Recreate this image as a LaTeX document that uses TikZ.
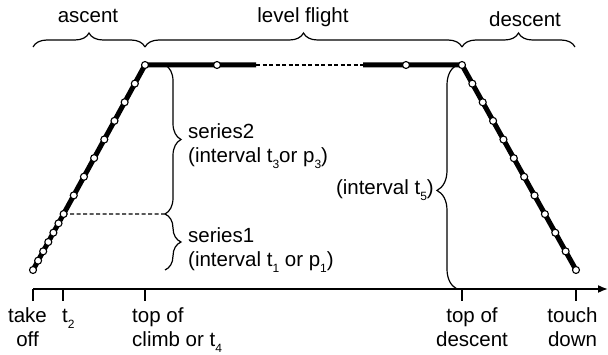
\documentclass[tikz,border=0pt]{standalone}
\usepackage{fontspec}
\setmainfont{Liberation Sans}
\usepackage{tikz}
\usetikzlibrary{arrows,arrows.meta}
\usetikzlibrary{calc}
\usetikzlibrary{decorations.pathreplacing}

\newcommand{\lowidx}[1]{\raisebox{-5.5pt}{\fontsize{12}{12}\selectfont #1}}

\tikzset{
	flight/.style={line width=5pt, line join=round},
	fixpt/.style={circle, draw, fill=white, line width=1.1pt, inner sep=0pt, minimum size=7pt},
	brc/.style={decorate, decoration={brace, amplitude=#1}, line width=1.2pt},
	brc/.default=14pt,
	lbl/.style={font=\fontsize{20.5}{24.5}\selectfont, inner sep=0pt},
	thin dash/.style={line width=1.2pt, dash pattern=on 4pt off 2.5pt}
}

\begin{document}
\begin{tikzpicture}[x=1pt, y=-1pt]
	\useasboundingbox (0,0) rectangle (608,355);
	% flight profile
	\coordinate (takeoff) at (33,270);
	\coordinate (toc) at (145,65);
	\coordinate (tod) at (462,65);
	\coordinate (touch) at (576,270);
	\coordinate (t2) at ($(takeoff)!0.2732!(toc)$);
	\coordinate (lvlA) at (256,65);
	\coordinate (lvlB) at (363,65);
	\coordinate (sTop) at (165,65);
	\coordinate (sMid) at (165,214);
	\coordinate (sBot) at (165,270);
	\draw[flight] (takeoff) -- (toc) -- (lvlA);
	\draw[flight] (lvlB) -- (tod) -- (touch);
	\draw[thin dash] (lvlA) -- (lvlB);
	\draw[thin dash] (t2) -- (sMid);
	% measured points
	\foreach \i in {0,...,6}
		\node[fixpt] (asc\i) at ($(takeoff)!\i/6!(t2)$) {};
	\foreach \i in {1,...,8}
		\node[fixpt] (clb\i) at ($(t2)!\i/8!(toc)$) {};
	\node[fixpt] (lvl1) at (217,65) {};
	\node[fixpt] (lvl2) at (406,65) {};
	\foreach \i in {0,...,11}
		\node[fixpt] (dsc\i) at ($(tod)!\i/11!(touch)$) {};
	% time axis
	\coordinate (orig) at (33,289);
	\coordinate (xend) at (608,289);
	\draw[line width=1.6pt, -{Latex[length=10pt,width=8pt]}] (orig) -- (xend);
	\foreach \x in {33,63,145,462,576}
		\draw[line width=1.2pt] (\x,289) -- (\x,301);
	\node[lbl, anchor=base, align=center] (lblTO) at (27.5,347) {take\\off};
	\node[lbl, anchor=base west] (lblT2) at (62,323) {t\lowidx{2}};
	\node[lbl, anchor=base west, align=left] (lblTOC) at (132,347) {top of\\climb or t\lowidx{4}};
	\node[lbl, anchor=base, align=center] (lblTOD) at (472,347) {top of\\descent};
	\node[lbl, anchor=base, align=center] (lblTD) at (572.5,347) {touch\\down};
	% phases
	\coordinate (phA) at (33,47);
	\coordinate (phB) at (145,47);
	\coordinate (phC) at (462,47);
	\coordinate (phD) at (575,47);
	\draw[brc] (phA) -- (phB);
	\draw[brc] (phB) -- (phC);
	\draw[brc] (phC) -- (phD);
	\node[lbl, anchor=base] (lblAsc) at (88,23) {ascent};
	\node[lbl, anchor=base] (lblLvl) at (303,23) {level flight};
	\node[lbl, anchor=base] (lblDsc) at (525,27) {descent};
	% intervals
	\draw[brc=16pt] (sTop) -- (sMid);
	\draw[brc=16pt] (sMid) -- (sBot);
	\coordinate (iBot) at (457,289);
	\coordinate (iTop) at (457,65);
	\draw[brc=20pt, decoration={aspect=0.44}] (iBot) -- (iTop);
	\node[lbl, anchor=base west, align=left] (lblS2) at (188,163) {series2\\(interval t\lowidx{3}or p\lowidx{3})};
	\node[lbl, anchor=base west, align=left] (lblS1) at (188,267) {series1\\(interval t\lowidx{1} or p\lowidx{1})};
	\node[lbl, anchor=base east] (lblT5) at (434,195) {(interval t\lowidx{5})};
\end{tikzpicture}
\end{document}
